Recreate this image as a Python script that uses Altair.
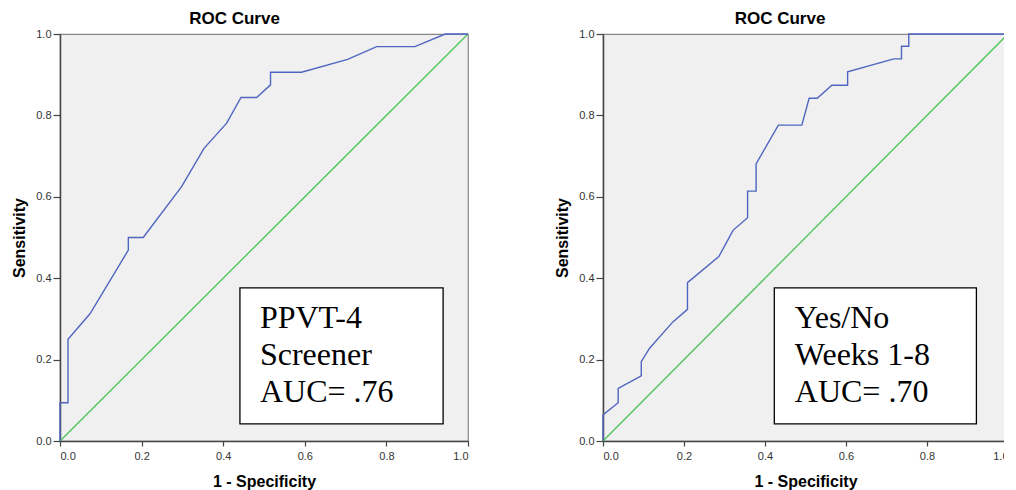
import altair as alt
import pandas as pd

# ---- data ----
left_fpr = [0.0, 0.0, 0.0196, 0.0196, 0.0735, 0.1675, 0.1675, 0.204, 0.298, 0.353,
            0.4085, 0.4436, 0.482, 0.516, 0.516, 0.592, 0.705, 0.776, 0.870, 0.944, 1.0]
left_tpr = [0.0, 0.094, 0.094, 0.25, 0.3125, 0.469, 0.5, 0.5, 0.625, 0.719,
            0.781, 0.844, 0.844, 0.875, 0.906, 0.906, 0.9375, 0.969, 0.969, 1.0, 1.0]

right_fpr = [0.0, 0.0, 0.0375, 0.0375, 0.0945, 0.0945, 0.115, 0.172, 0.2086, 0.2086,
             0.286, 0.321, 0.357, 0.357, 0.378, 0.378, 0.433, 0.491, 0.509, 0.529,
             0.565, 0.604, 0.604, 0.718, 0.737, 0.737, 0.755, 0.755, 1.0]
right_tpr = [0.0, 0.064, 0.094, 0.129, 0.160, 0.195, 0.228, 0.292, 0.3235, 0.389,
             0.453, 0.5176, 0.5487, 0.614, 0.614, 0.681, 0.776, 0.776, 0.842, 0.842,
             0.874, 0.874, 0.907, 0.939, 0.939, 0.970, 0.970, 1.0, 1.0]

ref_line = [0.0, 1.0]

left_label = "PPVT-4\nScreener\nAUC= .76"
right_label = "Yes/No\nWeeks 1-8\nAUC= .70"

tick_values = [0.0, 0.2, 0.4, 0.6, 0.8, 1.0]

chart_title = "ROC Curve"
x_title = "1 - Specificity"
y_title = "Sensitivity"

# annotation box placement (data units)
left_box = dict(x=0.441, x2=0.939, y=0.376, y2=0.042, tx=0.49, ty=0.278)
right_box = dict(x=0.423, x2=0.922, y=0.376, y2=0.042, tx=0.4736, ty=0.278)

BLUE = "#4F66C0"
GREEN = "#4CC45A"


def panel(fpr, tpr, label, box, w, title_dx):
    xs = alt.Scale(domain=[0, 1], nice=False)
    ys = alt.Scale(domain=[0, 1], nice=False)
    xax = alt.Axis(values=tick_values, format=".1f", title=x_title)
    yax = alt.Axis(values=tick_values, format=".1f", title=y_title)

    roc = pd.DataFrame({"fpr": fpr, "tpr": tpr, "i": range(len(fpr))})
    diag = pd.DataFrame({"fpr": ref_line, "tpr": ref_line})
    boxdf = pd.DataFrame([box])
    txt = pd.DataFrame([{"tx": box["tx"], "ty": box["ty"], "label": label}])

    d = alt.Chart(diag).mark_line(color=GREEN, strokeWidth=1.3).encode(
        x=alt.X("fpr:Q", scale=xs, axis=xax),
        y=alt.Y("tpr:Q", scale=ys, axis=yax),
    )
    r = alt.Chart(roc).mark_line(color=BLUE, strokeWidth=1.4).encode(
        x=alt.X("fpr:Q", scale=xs, axis=xax),
        y=alt.Y("tpr:Q", scale=ys, axis=yax),
        order=alt.Order("i:Q"),
    )
    b = alt.Chart(boxdf).mark_rect(fill="white", stroke="black", strokeWidth=1.3).encode(
        x="x:Q", x2="x2:Q", y="y:Q", y2="y2:Q"
    )
    t = alt.Chart(txt).mark_text(
        align="left", baseline="alphabetic", font="Liberation Serif",
        fontSize=32, lineBreak="\n", lineHeight=37, color="black"
    ).encode(x="tx:Q", y="ty:Q", text="label:N")

    return alt.layer(d, r, b, t).properties(
        width=w, height=407,
        title=alt.TitleParams(chart_title, fontSize=17, fontWeight="bold",
                              font="Liberation Sans", color="black", offset=0,
                              dx=title_dx),
    )


chart = alt.hconcat(
    panel(left_fpr, left_tpr, left_label, left_box, 408, -29.5),
    panel(right_fpr, right_tpr, right_label, right_box, 405, -25.5),
    spacing=82,
).properties(
    padding={"left": 3, "top": 1, "right": -8, "bottom": 0},
).configure_view(
    fill="#F0F0F0", stroke="#888888", strokeWidth=1.2
).configure_axis(
    grid=False, domainColor="#444444", domainWidth=1.5,
    tickColor="#444444", tickWidth=1.2,
    labelFont="Liberation Sans", labelFontSize=11, labelColor="#333333",
    titleFont="Liberation Sans", titleFontSize=16, titleFontWeight="bold",
    titleColor="black",
).configure_axisX(
    tickSize=5, labelPadding=4, titlePadding=12
).configure_axisY(
    tickSize=7, labelPadding=2, titlePadding=8
)

chart.save("out.html", embed_options={"renderer": "svg", "actions": False})
